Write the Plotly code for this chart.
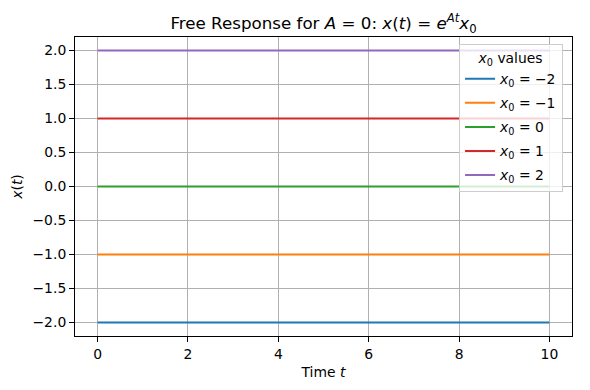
import numpy as np
import plotly.graph_objects as go

t_values = [0, 10]
x0_values = [-2, -1, 0, 1, 2]
labels = ["<i>x</i><sub>0</sub> = \u22122", "<i>x</i><sub>0</sub> = \u22121",
          "<i>x</i><sub>0</sub> = 0", "<i>x</i><sub>0</sub> = 1", "<i>x</i><sub>0</sub> = 2"]
colors = ["#1f77b4", "#ff7f0e", "#2ca02c", "#d62728", "#9467bd"]
x_ticks = [0, 2, 4, 6, 8, 10]
y_ticks = [-2.0, -1.5, -1.0, -0.5, 0.0, 0.5, 1.0, 1.5, 2.0]
y_ticklabels = ["\u22122.0", "\u22121.5", "\u22121.0", "\u22120.5", "0.0", "0.5", "1.0", "1.5", "2.0"]

fig = go.Figure()
for i, (x0, lab, c) in enumerate(zip(x0_values, labels, colors)):
    fig.add_trace(go.Scatter(x=t_values, y=[x0, x0], mode="lines", name=lab,
                             legendgroup=f"g{i}",
                             line=dict(color=c, width=2)))

font = "DejaVu Sans"
fig.update_layout(
    width=590, height=390,
    margin=dict(l=75, r=18, t=37, b=54, autoexpand=False),
    paper_bgcolor="white", plot_bgcolor="white",
    font=dict(family=font, size=13.9, color="black"),
    title=dict(text="Free Response for <i>A</i> = 0: <i>x</i>(<i>t</i>) = <i>e</i><sup><i>At</i></sup><i>x</i><sub>0</sub>",
               x=0.5, xref="paper", xanchor="center", y=1, yref="paper", yanchor="bottom",
               pad=dict(b=8), font=dict(size=16.7)),
    showlegend=True,
    legend=dict(x=0.982, y=0.976, xanchor="right", yanchor="top",
                bgcolor="rgba(255,255,255,0.8)", bordercolor="#cccccc", borderwidth=1,
                title=dict(text="<i>x</i><sub>0</sub> values", side="top center", font=dict(size=13.9)),
                font=dict(size=13.9), tracegroupgap=3, itemwidth=30),
)
fig.update_xaxes(range=[-0.5, 10.5], tickvals=x_ticks, ticktext=[str(v) for v in x_ticks],
                 showgrid=True, gridcolor="#b0b0b0", gridwidth=1,
                 showline=True, linecolor="black", linewidth=1, mirror=True,
                 ticks="outside", ticklen=5, tickcolor="black", zeroline=False, automargin=False,
                 title=dict(text="Time <i>t</i>", standoff=6, font=dict(size=13.9)))
fig.update_yaxes(range=[-2.2, 2.2], tickvals=y_ticks, ticktext=y_ticklabels,
                 showgrid=True, gridcolor="#b0b0b0", gridwidth=1,
                 showline=True, linecolor="black", linewidth=1, mirror=True,
                 ticks="outside", ticklen=5, tickcolor="black", zeroline=False, automargin=False,
                 title=dict(text="<i>x</i>(<i>t</i>)", standoff=6, font=dict(size=13.9)))
fig.write_html("out.html", config={"displayModeBar": False},
               post_script="document.body.style.margin='0px';")
